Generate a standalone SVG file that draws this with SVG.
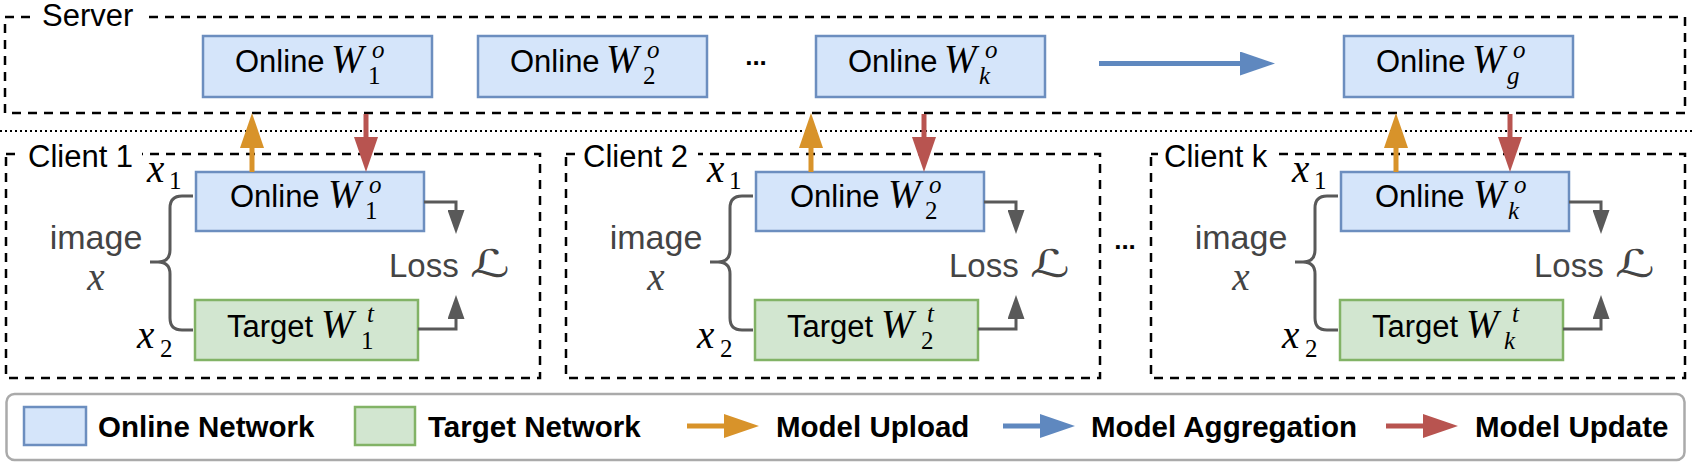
<svg xmlns="http://www.w3.org/2000/svg" width="1692" height="465" viewBox="0 0 1692 465">
<style>
.dash{fill:none;stroke:#000;stroke-width:2.5;stroke-dasharray:9 7}
.dot{fill:none;stroke:#000;stroke-width:2;stroke-dasharray:2 3}
.on{fill:#d5e5fa;stroke:#6c8ebf;stroke-width:2.5}
.tg{fill:#d2e6d0;stroke:#82b366;stroke-width:2.5}
.t{font-family:"Liberation Sans",Arial,sans-serif;font-size:31px;fill:#000}
.g{fill:#444}
.m{font-family:"Liberation Serif","Times New Roman",serif;font-style:italic;font-size:39px}
.ms{font-family:"Liberation Serif","Times New Roman",serif;font-style:italic;font-size:25px}
.md{font-family:"Liberation Serif","Times New Roman",serif;font-size:25px}
.sc{font-family:"DejaVu Serif","DejaVu Sans",serif;font-style:italic;font-size:38px}
.leg{font-family:"Liberation Sans",Arial,sans-serif;font-size:29.5px;font-weight:bold;fill:#000}
.dots{font-family:"Liberation Sans",Arial,sans-serif;font-size:26px;font-weight:bold;text-anchor:middle}
.up{stroke:#d8932a;stroke-width:5;fill:none}
.upd{stroke:#b85450;stroke-width:5;fill:none}
.agg{stroke:#5f88bf;stroke-width:5;fill:none}
.gr{stroke:#595959;stroke-width:3;fill:none}
.wb{fill:#fff}
</style>
<defs>
<marker id="hUp" viewBox="0 0 35 24" refX="8" refY="12" markerWidth="35" markerHeight="24" markerUnits="userSpaceOnUse" orient="auto"><path d="M0,0 L35,12 L0,24 Z" fill="#d8932a"/></marker>
<marker id="hUpd" viewBox="0 0 35 24" refX="8" refY="12" markerWidth="35" markerHeight="24" markerUnits="userSpaceOnUse" orient="auto"><path d="M0,0 L35,12 L0,24 Z" fill="#b85450"/></marker>
<marker id="hAgg" viewBox="0 0 35 24" refX="8" refY="12" markerWidth="35" markerHeight="24" markerUnits="userSpaceOnUse" orient="auto"><path d="M0,0 L35,12 L0,24 Z" fill="#5f88bf"/></marker>
<marker id="hGr" viewBox="0 0 24 17" refX="6" refY="8.5" markerWidth="24" markerHeight="17" markerUnits="userSpaceOnUse" orient="auto"><path d="M0,0 L24,8.5 L0,17 Z" fill="#595959"/></marker>
</defs>

<!-- Server -->
<g id="server">
<rect class="dash" x="5" y="17" width="1680" height="96"/>
<rect class="wb" x="36" y="6" width="106" height="22"/>
<text class="t" x="42" y="26">Server</text>
<text class="dots" x="756" y="65">...</text>
</g>
<g id="server-online-1">
<rect class="on" x="203" y="36" width="229" height="61"/>
<text class="t" x="235" y="72">Online</text><text class="m" x="331" y="72">W</text><text class="ms" x="372" y="58">o</text><text class="md" x="368" y="84">1</text>
</g>
<g id="server-online-2">
<rect class="on" x="478" y="36" width="229" height="61"/>
<text class="t" x="510" y="72">Online</text><text class="m" x="606" y="72">W</text><text class="ms" x="647" y="58">o</text><text class="md" x="643" y="84">2</text>
</g>
<g id="server-online-k">
<rect class="on" x="816" y="36" width="229" height="61"/>
<text class="t" x="848" y="72">Online</text><text class="m" x="944" y="72">W</text><text class="ms" x="985" y="58">o</text><text class="ms" x="979" y="84">k</text>
</g>
<g id="server-online-g">
<rect class="on" x="1344" y="36" width="229" height="61"/>
<text class="t" x="1376" y="72">Online</text><text class="m" x="1472" y="72">W</text><text class="ms" x="1513" y="58">o</text><text class="ms" x="1507" y="84">g</text>
</g>

<line class="dot" x1="0" y1="131" x2="1692" y2="131"/>

<!-- Client 1 -->
<g id="client-1">
<rect class="dash" x="6" y="154" width="534" height="224"/>
<rect class="wb" x="20" y="142" width="122" height="26"/>
<text class="t" x="28" y="167">Client 1</text>
<text class="m" x="147" y="182">x</text><text class="md" x="169" y="189">1</text>
<text class="m" x="137" y="348">x</text><text class="md" x="160" y="357">2</text>
<text class="t g" x="96" y="249" text-anchor="middle" style="font-size:34px">image</text>
<text class="m g" x="96" y="290" text-anchor="middle">x</text>
<text class="t g" x="389" y="277" style="font-size:33px">Loss</text>
<text class="sc g" transform="translate(470,277) scale(1.45,1)">ℒ</text>
<path class="gr" d="M193,196 H182 Q170,196 170,208 V250 Q170,262 158,262 H150 M158,262 Q170,262 170,274 V318 Q170,330 182,330 H193"/>
<g id="client-1-online">
<rect class="on" x="196" y="172" width="228" height="59"/>
<text class="t" x="230" y="207">Online</text><text class="m" x="328" y="207">W</text><text class="ms" x="369" y="193">o</text><text class="md" x="365" y="219">1</text>
</g>
<g id="client-1-target">
<rect class="tg" x="195" y="300" width="223" height="60"/>
<text class="t" x="227" y="337">Target</text><text class="m" x="321" y="337">W</text><text class="ms" x="367" y="322">t</text><text class="md" x="361" y="349">1</text>
</g>
</g>

<!-- Client 2 -->
<g id="client-2">
<rect class="dash" x="566" y="154" width="534" height="224"/>
<rect class="wb" x="576" y="142" width="122" height="26"/>
<text class="t" x="583" y="167">Client 2</text>
<text class="m" x="707" y="182">x</text><text class="md" x="729" y="189">1</text>
<text class="m" x="697" y="348">x</text><text class="md" x="720" y="357">2</text>
<text class="t g" x="656" y="249" text-anchor="middle" style="font-size:34px">image</text>
<text class="m g" x="656" y="290" text-anchor="middle">x</text>
<text class="t g" x="949" y="277" style="font-size:33px">Loss</text>
<text class="sc g" transform="translate(1030,277) scale(1.45,1)">ℒ</text>
<path class="gr" d="M753,196 H742 Q730,196 730,208 V250 Q730,262 718,262 H710 M718,262 Q730,262 730,274 V318 Q730,330 742,330 H753"/>
<g id="client-2-online">
<rect class="on" x="756" y="172" width="228" height="59"/>
<text class="t" x="790" y="207">Online</text><text class="m" x="888" y="207">W</text><text class="ms" x="929" y="193">o</text><text class="md" x="925" y="219">2</text>
</g>
<g id="client-2-target">
<rect class="tg" x="755" y="300" width="223" height="60"/>
<text class="t" x="787" y="337">Target</text><text class="m" x="881" y="337">W</text><text class="ms" x="927" y="322">t</text><text class="md" x="921" y="349">2</text>
</g>
</g>

<text class="dots" x="1125" y="249">...</text>

<!-- Client k -->
<g id="client-k">
<rect class="dash" x="1151" y="154" width="534" height="224"/>
<rect class="wb" x="1158" y="142" width="118" height="26"/>
<text class="t" x="1164" y="167">Client k</text>
<text class="m" x="1292" y="182">x</text><text class="md" x="1314" y="189">1</text>
<text class="m" x="1282" y="348">x</text><text class="md" x="1305" y="357">2</text>
<text class="t g" x="1241" y="249" text-anchor="middle" style="font-size:34px">image</text>
<text class="m g" x="1241" y="290" text-anchor="middle">x</text>
<text class="t g" x="1534" y="277" style="font-size:33px">Loss</text>
<text class="sc g" transform="translate(1615,277) scale(1.45,1)">ℒ</text>
<path class="gr" d="M1338,196 H1327 Q1315,196 1315,208 V250 Q1315,262 1303,262 H1295 M1303,262 Q1315,262 1315,274 V318 Q1315,330 1327,330 H1338"/>
<g id="client-k-online">
<rect class="on" x="1341" y="172" width="228" height="59"/>
<text class="t" x="1375" y="207">Online</text><text class="m" x="1473" y="207">W</text><text class="ms" x="1514" y="193">o</text><text class="ms" x="1508" y="219">k</text>
</g>
<g id="client-k-target">
<rect class="tg" x="1340" y="300" width="223" height="60"/>
<text class="t" x="1372" y="337">Target</text><text class="m" x="1466" y="337">W</text><text class="ms" x="1512" y="322">t</text><text class="ms" x="1504" y="349">k</text>
</g>
</g>

<!-- Connectors -->
<g id="connectors">
<line class="agg" x1="1099" y1="63.5" x2="1248" y2="63.5" marker-end="url(#hAgg)"/>
<line class="up" x1="252" y1="172" x2="252" y2="140" marker-end="url(#hUp)"/>
<line class="upd" x1="366" y1="114" x2="366" y2="145" marker-end="url(#hUpd)"/>
<line class="up" x1="811" y1="172" x2="811" y2="140" marker-end="url(#hUp)"/>
<line class="upd" x1="924" y1="114" x2="924" y2="145" marker-end="url(#hUpd)"/>
<line class="up" x1="1396" y1="172" x2="1396" y2="140" marker-end="url(#hUp)"/>
<line class="upd" x1="1510" y1="114" x2="1510" y2="145" marker-end="url(#hUpd)"/>
<path class="gr" d="M424,202 H456 V216" marker-end="url(#hGr)"/>
<path class="gr" d="M418,329 H456 V313" marker-end="url(#hGr)"/>
<path class="gr" d="M984,202 H1016 V216" marker-end="url(#hGr)"/>
<path class="gr" d="M978,329 H1016 V313" marker-end="url(#hGr)"/>
<path class="gr" d="M1569,202 H1601 V216" marker-end="url(#hGr)"/>
<path class="gr" d="M1563,329 H1601 V313" marker-end="url(#hGr)"/>
</g>

<!-- Legend -->
<g id="legend">
<rect x="6.5" y="394" width="1678" height="66" rx="8" fill="#fff" stroke="#aaa" stroke-width="2.5"/>
<rect class="on" x="24" y="407" width="62" height="38"/>
<text class="leg" x="98" y="437">Online Network</text>
<rect class="tg" x="355" y="407" width="60" height="38"/>
<text class="leg" x="428" y="437">Target Network</text>
<line class="up" x1="687" y1="426" x2="732" y2="426" marker-end="url(#hUp)"/>
<text class="leg" x="776" y="437">Model Upload</text>
<line class="agg" x1="1003" y1="426" x2="1048" y2="426" marker-end="url(#hAgg)"/>
<text class="leg" x="1091" y="437">Model Aggregation</text>
<line class="upd" x1="1386" y1="426" x2="1431" y2="426" marker-end="url(#hUpd)"/>
<text class="leg" x="1475" y="437">Model Update</text>
</g>
</svg>
